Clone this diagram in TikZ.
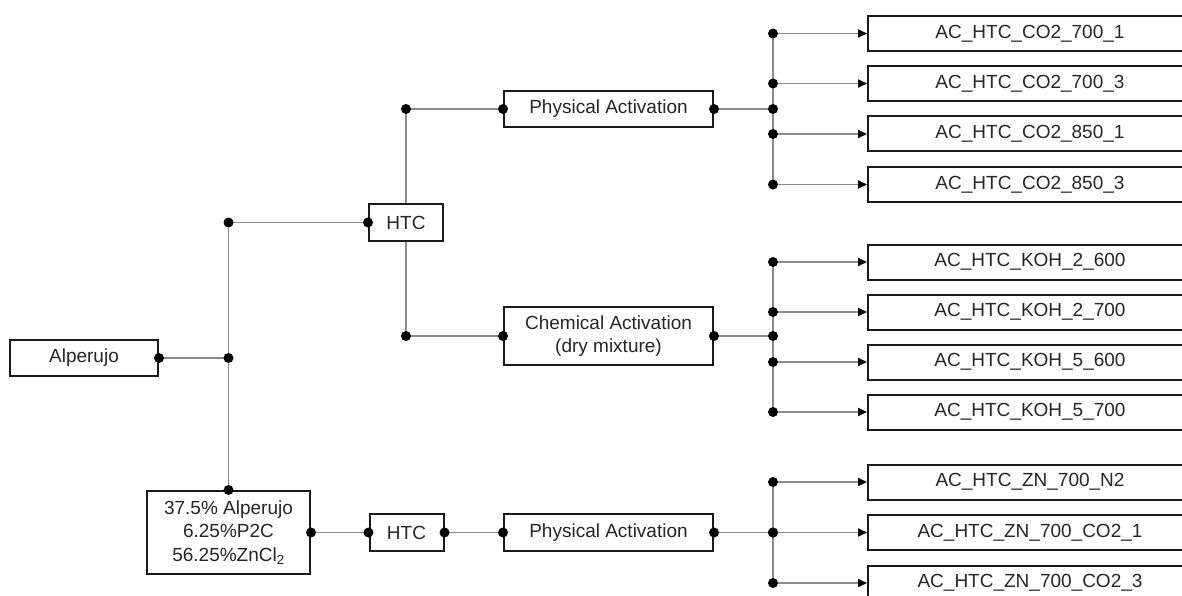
\documentclass[tikz,border=0pt]{standalone}
\usepackage{fontspec}
\setmainfont{Liberation Sans}
\usetikzlibrary{arrows.meta}

\tikzset{
    box/.style={draw=black!90, line width=2pt, fill=white, text=black!85,
        inner sep=0pt, align=center, font=\fontsize{19}{23.4}\selectfont},
    outbox/.style={box, minimum width=324pt, minimum height=35pt},
    link/.style={draw=black!45, line width=1.8pt},
    arr/.style={link, -{Triangle[length=9pt, width=8pt, color=black]}},
}

\begin{document}
\begin{tikzpicture}[x=1pt, y=-1pt]
\useasboundingbox (0,0) rectangle (1182,596);

% Feedstocks
\node[box, minimum width=148pt, minimum height=36pt] (alp) at (84,358) {Alperujo};
\node[box, minimum width=163pt, minimum height=83pt] (mix) at (228.5,532.5)
    {37.5\% Alperujo\\6.25\%P2C\\56.25\%ZnCl\textsubscript{2}};

% Treatments
\node[box, minimum width=74pt, minimum height=37pt] (h1) at (406,222.5) {HTC};
\node[box, minimum width=74pt, minimum height=37pt] (h2) at (406.5,532.5) {HTC};
\node[box, minimum width=209pt, minimum height=36pt] (pa1) at (608.5,109) {Physical Activation};
\node[box, minimum width=209pt, minimum height=58pt] (ca) at (608.5,336) {Chemical Activation\\(dry mixture)};
\node[box, minimum width=209pt, minimum height=37pt] (pa2) at (608.5,532.5) {Physical Activation};

% Products
\foreach \n/\y/\t in {1/33.5/AC\_HTC\_CO2\_700\_1, 2/83.5/AC\_HTC\_CO2\_700\_3,
        3/134/AC\_HTC\_CO2\_850\_1, 4/184.5/AC\_HTC\_CO2\_850\_3,
        5/262/AC\_HTC\_KOH\_2\_600, 6/312/AC\_HTC\_KOH\_2\_700,
        7/362/AC\_HTC\_KOH\_5\_600, 8/412/AC\_HTC\_KOH\_5\_700,
        9/482/AC\_HTC\_ZN\_700\_N2, 10/532.5/AC\_HTC\_ZN\_700\_CO2\_1,
        11/583/AC\_HTC\_ZN\_700\_CO2\_3} {
    \node[outbox] (o\n) at (1030,\y) {\t};
}

% Junctions
\coordinate (j0) at (mix.north |- alp.east);
\coordinate (r1) at (773,109);
\coordinate (r2) at (773,336);
\coordinate (r3) at (773,532.5);

% Left tree
\draw[link] (alp.east) -- (j0);
\draw[link] (j0 |- h1.west) -- (mix.north);
\draw[link] (j0 |- h1.west) -- (h1.west);
\draw[link] (h1.north) |- (pa1.west);
\draw[link] (h1.south) |- (ca.west);
\draw[link] (mix.east) -- (h2.west);
\draw[link] (h2.east) -- (pa2.west);

% Right fans
\draw[link] (pa1.east) -- (r1);
\draw[link] (ca.east) -- (r2);
\draw[link] (pa2.east) -- (r3);
\draw[link] (o1.west -| r1) -- (o4.west -| r1);
\draw[link] (o5.west -| r2) -- (o8.west -| r2);
\draw[link] (o9.west -| r3) -- (o11.west -| r3);
\foreach \n in {1,...,11} {
    \draw[arr] (o\n.west -| r1) -- (o\n.west);
    \fill (o\n.west -| r1) circle (5pt);
}

% Dots
\foreach \p in {alp.east, j0, mix.north, mix.east, h1.west, h2.west, h2.east,
        pa1.west, pa1.east, ca.west, ca.east, pa2.west, pa2.east, r1, r2, r3} {
    \fill (\p) circle (5pt);
}
\fill (j0 |- h1.west) circle (5pt);
\fill (h1.north |- pa1.west) circle (5pt);
\fill (h1.south |- ca.west) circle (5pt);

\end{tikzpicture}
\end{document}
